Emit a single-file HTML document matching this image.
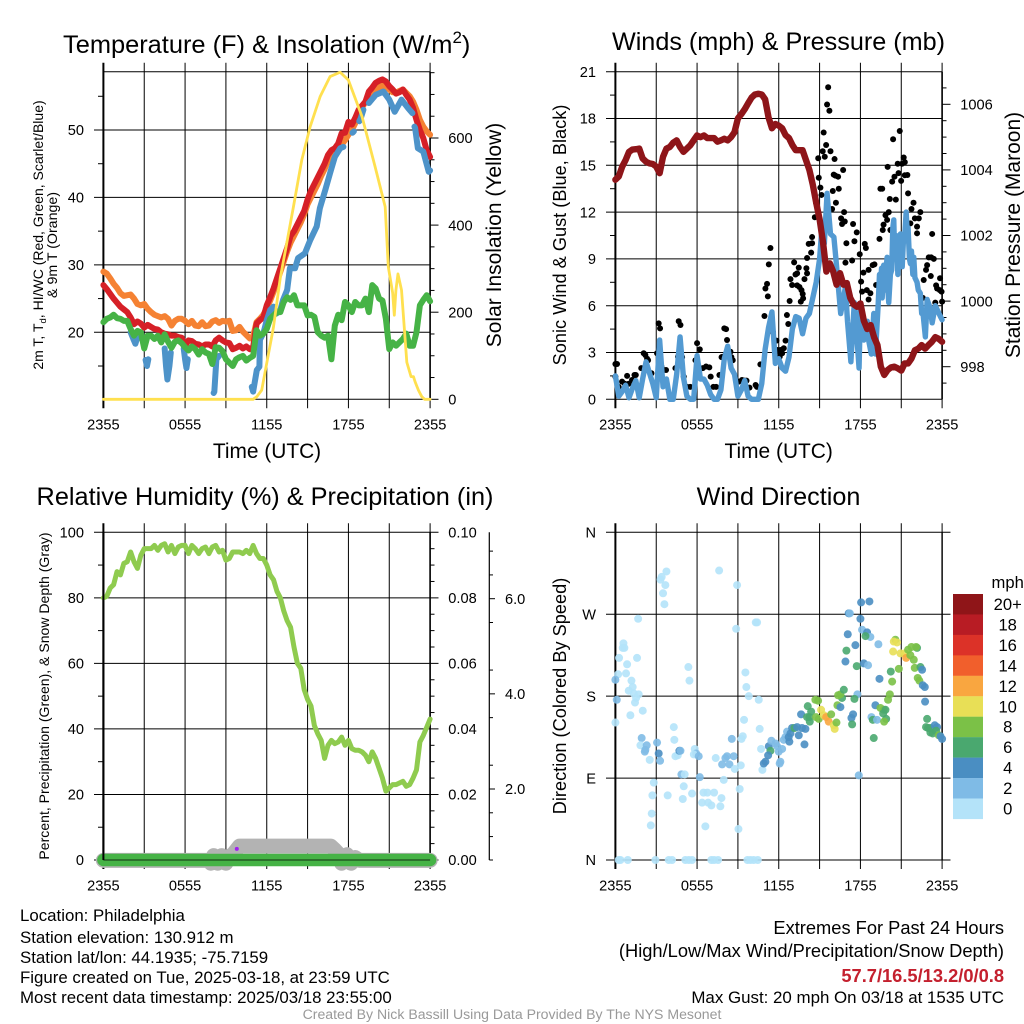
<!DOCTYPE html>
<html lang="en">
<head>
<meta charset="utf-8">
<title>Mesonet Station Meteogram</title>
<style>
html,body{margin:0;padding:0;background:#fff;width:1024px;height:1024px;overflow:hidden}
svg{display:block;font-family:"Liberation Sans",Arial,sans-serif}
text{fill:#000}
</style>
</head>
<body>
<svg id="chart" xmlns="http://www.w3.org/2000/svg" width="1024" height="1024" viewBox="0 0 1024 1024">
  <rect x="0" y="0" width="1024" height="1024" fill="#fff"/>
  <text x="63" y="53" font-size="25.4">Temperature (F) &amp; Insolation (W/m<tspan font-size="17" dy="-10">2</tspan><tspan dy="10">)</tspan></text>
  <text x="778.5" y="50" font-size="25.2" text-anchor="middle">Winds (mph) &amp; Pressure (mb)</text>
  <text x="265" y="505" font-size="25.3" text-anchor="middle">Relative Humidity (%) &amp; Precipitation (in)</text>
  <text x="778.5" y="505" font-size="25.2" text-anchor="middle">Wind Direction</text>

  <text x="267" y="458" font-size="20.9" text-anchor="middle">Time (UTC)</text>
  <text x="778.7" y="458" font-size="20.9" text-anchor="middle">Time (UTC)</text>

  <text transform="translate(43,235) rotate(-90)" font-size="14" text-anchor="middle">2m T, T<tspan font-size="9.5" dy="3">d</tspan><tspan dy="-3">, HI/WC (Red, Green, Scarlet/Blue)</tspan></text>
  <text transform="translate(57,245) rotate(-90)" font-size="14.2" text-anchor="middle">&amp; 9m T (Orange)</text>
  <text transform="translate(501,235) rotate(-90)" font-size="21" text-anchor="middle">Solar Insolation (Yellow)</text>
  <text transform="translate(566,235) rotate(-90)" font-size="18.2" text-anchor="middle">Sonic Wind &amp; Gust (Blue, Black)</text>
  <text transform="translate(1020,235) rotate(-90)" font-size="21" text-anchor="middle">Station Pressure (Maroon)</text>
  <text transform="translate(49,696) rotate(-90)" font-size="14.05" text-anchor="middle">Percent, Precipitation (Green), &amp; Snow Depth (Gray)</text>
  <text transform="translate(566,696) rotate(-90)" font-size="18.2" text-anchor="middle">Direction (Colored By Speed)</text>

  <g font-size="16.85">
    <text x="20" y="921">Location: Philadelphia</text>
    <text x="20" y="943">Station elevation: 130.912 m</text>
    <text x="20" y="963">Station lat/lon: 44.1935; -75.7159</text>
    <text x="20" y="983">Figure created on Tue, 2025-03-18, at 23:59 UTC</text>
    <text x="20" y="1003">Most recent data timestamp: 2025/03/18 23:55:00</text>
  </g>
  <g font-size="18.3" text-anchor="end">
    <text x="1004" y="934">Extremes For Past 24 Hours</text>
    <text x="1004" y="957">(High/Low/Max Wind/Precipitation/Snow Depth)</text>
    <text x="1004" y="982" font-weight="bold" style="fill:#c4202e">57.7/16.5/13.2/0/0.8</text>
    <text x="1004" y="1003" font-size="16.9">Max Gust: 20 mph On 03/18 at 1535 UTC</text>
  </g>
  <text x="512" y="1019" font-size="14.1" text-anchor="middle" style="fill:#999">Created By Nick Bassill Using Data Provided By The NYS Mesonet</text>
</svg>
<script>
// ---------- shared axis data ----------
const timeTickLabels = ['2355', '0555', '1155', '1755', '2355'];
const timeTickHours = [0, 3, 6, 9, 12, 15, 18, 21, 24];
const gridStepHours = 0.25;

// ---------- temperature panel (deg F, one value per 15 minutes) ----------
const tempTicks = [20, 30, 40, 50];
const solarTicks = [0, 200, 400, 600];
const redTemp = [27,26.4,25.7,25,24.4,23.8,23.4,23,22.2,21.2,21.6,21.3,20.7,21.1,20.8,20.5,20.4,20,19.8,19.7,19.5,19.5,19.3,19.2,18,18.8,18.7,18.3,18.2,17.9,18.2,18.2,17.9,18.8,19.2,18.8,18.5,18.4,17.5,17.7,18,17.6,17.9,17.5,17.8,21.3,21.8,22.2,24,25.2,26.5,28,29.5,31,32.5,34.3,35,36,37,38,39.7,41,42,43,44,45,46.3,47,47.3,48,49.5,49.6,51.2,50.8,51.8,53,53.6,54.2,55.7,56.3,57,57.3,57.5,57.2,56.5,56,55.4,55.6,56,55.2,54.5,53.3,51.5,50,48.8,47,46];
const orangeTemp = [29,28.7,28,27.2,26.6,25.8,25.4,25.5,25.6,25,24.2,24,24.2,23.5,23,22.6,22.4,22.2,22.4,22,21,21.7,22,22,21.7,21.2,21.7,21,20.9,21.5,20.9,21,21.6,21.8,21.4,21.7,21.6,21.7,20.2,20.3,20.8,20.1,19.6,19.1,19.4,21.5,22,22.6,23.5,24.7,26,27.5,29,30.5,32,33.3,34.3,35.3,36.3,37.5,39,40,41,42,43.2,44.2,45.5,46.2,46.5,47,47.8,48.5,49.3,50,51,52.5,53.3,54.2,55,55.8,56,56.3,56.6,56.5,56,55.6,55.5,55.8,56,55.5,55,54.2,53,51.5,50.5,49.8,49.3];
const greenTemp = [21.5,22,22.2,22.6,22.1,22,21.7,21.7,20.5,19.5,20.2,20,17.6,19.5,19.5,19,19.5,18.5,19.7,18.6,17.7,18.6,18.8,18.4,17.8,17.3,17.9,17.5,16.7,17.5,17,16.8,15.3,17.8,17.7,17.2,16,15.5,15,16,16.3,16.5,15.8,16.2,16.5,20.3,19.5,19.8,20.5,22,22.5,23,23,24.5,25.2,24.8,25.5,24,24,24,22.5,22.6,22.3,20,19.5,19.2,19.5,16,21,22.6,21.8,24.5,24,23,24.5,24,24,25,23,27,26.5,25,24.7,22,17.5,18.5,18,18.5,19,19.8,18,18,20,24,24.8,25.5,24.6];
const blueHours = [2,2.2,2.35,2.5,2.6,null,3.1,3.2,3.3,null,4.5,4.6,4.7,4.85,4.95,null,5.9,6,6.1,6.2,null,8.1,8.15,8.3,8.5,null,10.9,11,11.27,11.46,11.5,11.76,12,12.25,12.5,12.73,13,13.2,13.5,13.7,14.08,14.3,14.8,15.2,15.67,15.9,16.3,16.65,17,17.4,17.63,null,18.3,18.4,null,18.8,18.9,19.1,null,19.5,20,20.57,21,21.4,21.9,22.4,22.7,null,22.85,22.9,23.1,23.5,23.9,24];
const blueTemp = [20,19,18.3,19.3,20,null,15.9,15,16,null,17.6,15,13,15,17,null,17.6,16,14.7,16,null,11,11.2,16,16.5,null,11.9,11.2,14.4,14.9,18.9,19.9,21.8,23.3,23.8,22.8,23.3,24.8,26.3,29.5,29.5,31,31.7,33.7,35.7,38.4,41.1,43.6,46,47.3,47.5,null,49.6,49.8,null,51.3,51.7,53,null,54,55.2,55.7,54.5,52.7,54.5,53.2,52.5,null,50.5,50.3,47.3,46.8,43.8,44];
const solarHours = [0,11,11.27,11.63,12,12.49,13,13.42,13.96,14.57,15.19,15.92,16.65,17.39,18,19,19.96,20.7,20.93,21.25,21.37,21.49,21.64,21.9,22.29,22.6,22.78,22.9,23.14,23.39,23.6,24];
const solarValues = [0,0,6,21,83,165,280,350,442,549,626,695,741,751,733,649,534,442,304,244,193,251,288,251,85,52,52,40,21,6,0,0];

// ---------- winds panel ----------
const windTicks = [0, 3, 6, 9, 12, 15, 18, 21];
const pressureTicks = [998, 1000, 1002, 1004, 1006];
const windHours = [0,.25,.5,.75,1,1.25,1.5,1.75,2,2.25,2.5,2.75,3,3.25,3.5,3.75,4,4.25,4.5,4.75,5,5.25,5.5,5.75,6,6.25,6.5,6.75,7,7.25,7.5,7.75,8,8.25,8.5,8.75,9,9.25,9.5,9.75,10,10.25,10.5,10.75,11,11.25,11.5,11.75,12,12.25,12.5,12.75,13,13.25,13.5,13.75,14,14.25,14.5,14.75,15,15.2,15.35,15.55,15.8,16.05,16.2,16.3,16.55,16.9,17.05,17.3,17.55,17.7,17.9,18,18.25,18.5,18.6,18.8,18.98,19.1,19.3,19.4,19.47,19.55,19.6,19.71,19.78,19.85,19.96,20.02,20.08,20.2,20.3,20.38,20.45,20.52,20.6,20.69,20.75,20.8,20.94,21,21.07,21.15,21.25,21.36,21.45,21.5,21.6,21.67,21.75,21.85,21.92,22,22.16,22.25,22.4,22.5,22.6,22.77,22.9,23.14,23.27,23.5,23.88,24];
const windSpeeds = [1.5,.2,.5,.9,.1,.7,1.2,.1,1.3,2.4,1.7,1,.1,3.8,.8,1.3,0,0,1.6,4,1.4,.2,0,0,2.8,1.3,1.3,.9,.3,0,0,.6,2.6,3.4,2,1.6,.2,.6,1.2,.2,0,0,0,1,3.2,4.6,5.6,2.3,2.6,2,1.8,2.7,4.5,5.3,5.2,4.2,5.2,5.5,6.5,7.5,9,11.3,10,13.2,10.6,10.4,9,8,5.5,7.2,5,2.4,6.2,4.5,2,5.7,3.8,5,3.8,2.9,5.5,2.9,6,8,7,8.4,6.5,8.6,7,8,9.1,7,6.2,8,8.3,11,11.5,9,10.5,9.4,8,9.5,10.6,9,8.5,10,10.4,12,10.5,11,9,8.7,9.5,8,9.1,7.8,7.5,7,6.8,5.5,5.5,4,6.4,5.8,4.9,6,5.3,5.1];
const gustHours = [0,0,.12,.24,.49,.69,.86,.98,1.4,1.5,1.22,1.9,2.08,2.2,2.33,2.4,2.65,3.06,3.18,3.28,3.38,3.55,3.72,3.43,4.41,4.65,4.78,4.6,4.9,5.02,5.27,5.5,6,6.2,5.88,6.42,6.66,6.9,7,7.2,7.4,7.64,7.8,8,8.13,8.2,7.9,8.45,8.52,8.62,8.94,9.06,9.3,9.48,9.63,9.85,10.3,10.4,10.65,10.95,11.02,11.14,11.2,11.27,11.39,11.58,11.7,11.83,11.88,12,12.12,12.25,12.07,12.37,12.5,12.6,12.7,12.8,12.86,12.98,13.13,13.23,13.35,13.47,13.35,13.52,13.67,13.76,13.62,13.79,13.89,14.08,14.03,14.08,14.2,14.45,14.38,14.45,14.65,14.74,14.9,14.94,15.06,15.14,15.23,15.3,15.38,15.48,15.55,15.63,15.72,15.8,15.92,15.97,16.04,16.1,16.2,16.16,16.36,16.41,16.58,16.65,16.73,16.8,16.85,16.9,16.97,17.39,17.46,17.56,17.73,17.95,18.05,18.12,18.22,18.32,18.4,18.47,18.6,18.6,18.9,19.03,19.15,18.73,19.4,19.47,19.6,19.64,19.7,19.84,19.96,20.08,20,20.16,20.2,20.33,20.4,20.5,20.6,20.74,20.8,20.89,20.99,21.06,21.18,21.26,21.26,21.45,21.5,21.75,21.9,21.67,22,22.16,22.16,22.29,22.4,22.65,22.58,22.82,22.9,23.02,23.2,23.39,23.17,23.27,23.5,23.56,23.63,23.83,23.85,24,23.96];
const gustSpeeds = [1.45,2.26,2.26,.8,1.13,1,1.5,1,1.56,1.56,1.24,2,2.95,2.84,2.6,2.5,1.67,2.95,4.87,4.55,2.1,1.88,1.88,1.35,2,5,4.76,2.73,2.7,1.45,.8,.8,3.6,3.2,2.5,2,2.1,2.05,1.45,.8,.8,1.56,2.7,4.55,4.5,3.8,2.73,3.05,2.7,2.5,1.13,1.13,1.24,1.2,1.2,.75,.92,.8,2.24,5.34,7.1,7.4,6.6,8.65,9.7,4.3,3.76,3.76,3.16,3.05,3.16,2.95,2.73,3.27,3.76,5.4,4.83,6.3,7.7,7.33,8.78,8,8.07,8.44,7.3,7.2,7,6.75,6.26,6.47,7.7,8.07,8.4,9.06,9.96,10,9.4,10.4,11.67,12.6,15.45,14.2,13.57,13.1,15.9,17.1,15.55,16.3,18.9,20,18.5,15.9,12.2,13.35,14.4,15.4,12.6,14.34,14.27,13.5,11.6,11.24,14.7,12,11.4,8.76,10,8.9,11.24,10.13,10.7,9.3,7.54,6.9,8.12,9.96,9.7,7,6.4,8.3,8.6,8.65,7.33,6.8,10.28,13.5,13.5,10.85,11.2,11.8,11.5,12,14.9,12.84,10.85,13.95,16.67,14.27,12.8,15.1,14.5,17.2,14,15.1,15.5,15.2,14.36,14.38,13.2,12.2,12.6,11.28,11.6,11.07,10.64,11.6,12,7.65,6.5,8.3,8.6,9.1,9.1,9,7.9,10.6,6.2,7.3,7.1,7,7.76,6.26,6.9];
const pressureValues = [1003.7,1003.8,1004.1,1004.3,1004.55,1004.62,1004.63,1004.65,1004.35,1004.25,1004.2,1004.18,1004.1,1003.9,1004.4,1004.65,1004.7,1004.83,1004.9,1004.7,1004.55,1004.65,1004.75,1004.9,1005.05,1005,1005.05,1004.97,1004.97,1004.97,1004.86,1004.9,1004.95,1004.9,1005,1005.15,1005.57,1005.7,1005.85,1006.03,1006.2,1006.3,1006.32,1006.3,1006.15,1005.6,1005.27,1005.4,1005.35,1005.27,1005.06,1004.97,1004.76,1004.6,1004.6,1004.6,1004.3,1004,1003.55,1003,1002.5,1001.8,1000.9,1001.15,1000.9,1000.5,1000.85,1000.5,1000.55,1000.1,999.9,999.83,999.93,999.4,999.15,999.27,998.9,998.66,998,997.75,997.9,997.98,998,997.95,997.88,998.1,998.1,998.25,998.5,998.55,998.66,998.55,998.66,998.76,998.9,998.85,998.76];

// ---------- humidity panel ----------
const humidityTicks = [0, 20, 40, 60, 80, 100];
const precipTicks = ['0.00', '0.02', '0.04', '0.06', '0.08', '0.10'];
const snowTicks = ['2.0', '4.0', '6.0'];
const humidityValues = [80,80.5,83,84,88,87,90.5,91,94,91,89,93,95,95,95,96,94.5,96,96.5,94,96,93.5,95.5,96,96,93.5,96,95,93.5,95,95.5,93.5,95.5,96,94,94.5,91.5,92,94,94,94,93.5,94.5,93.5,96,93.5,92,92,90,87,85.5,82,80,76,73,71,65,60,58.5,52,49,47,41,38.5,36.5,31,35,36.5,35.5,36,37.5,35,36.5,34,33.5,33.5,33,32,30,33,31,28,25,21,22,23,23,23.5,24,22.5,23,25,27.5,36,38,40.5,43];
const precipHours = [0, 24];
const precipValues = [0, 0];
const snowHours = [0,7.5,7.7,7.9,8.1,8.4,8.7,9,9.2,9.5,10,16.7,17,17.2,17.5,17.9,18.2,18.5,18.8,24];
const snowValues = [.5,.5,.5,.44,.6,.44,.6,.44,.58,.62,.8,.8,.72,.66,.44,.62,.44,.56,.5,.5];
const markerHours = [9.8];
const markerValues = [.0034];

// ---------- wind direction panel ----------
const compassLabels = ['N', 'E', 'S', 'W', 'N'];
const compassDegrees = [0, 90, 180, 270, 360];
const legendLabels = ['20+', '18', '16', '14', '12', '10', '8', '6', '4', '2', '0'];
const legendColors = ['#8f1518', '#b81c24', '#dc3228', '#f15f2c', '#f9a640', '#e8df56', '#7bc147', '#4aa86f', '#4a8ec2', '#7fbbe6', '#b4e3f9'];
const dirHours = [0,.2,0,.1,.27,.59,.54,.66,.86,.78,1.18,1.27,.98,1.35,1.71,1.52,1.44,2.01,1.1,1.59,1.67,1.93,1.84,2.2,2.3,2.16,2.52,3.06,3.18,3.28,2.82,2.72,3.84,2.67,2.6,3.75,3.4,3.31,3.67,3.5,3.6,5.36,5.44,4.29,4.33,4.41,4.58,4.7,4.78,4.85,5.09,5.02,4.95,5.63,5.83,5.93,5.76,6.12,6.2,6.47,6.76,7.25,6.37,6.81,7.05,6.61,7.37,7.62,7.79,7.71,7.96,7.84,8.08,8.2,8.38,8.69,8.77,8.55,8.94,8.87,10.31,10.41,9.55,9.62,9.8,10.53,9.45,10.6,9.36,9.26,9.21,9.13,9.04,10.7,10.8,.24,.37,.91,2.94,3.92,4.16,5.14,5.39,5.63,7.05,7.25,7.54,9.7,9.92,10.16,10.46,11.27,11.39,11.22,11.02,10.9,11.46,11.76,11.88,12,12.25,12.07,12.12,12.37,12.49,12.61,12.73,12.86,12.78,12.98,13.15,13.35,13.47,13.71,13.96,13.89,13.64,14.13,14.38,14.25,14.08,14.28,14.69,14.89,14.74,14.94,15.11,15.31,15.48,15.67,15.85,16.11,16.04,16.24,16.31,16.53,16.65,16.36,16.53,16.78,16.97,16.9,17.14,17.22,17.07,17.63,18,18.05,18.66,17.73,18.25,18.56,18.12,18.49,18.73,18.37,19.32,19.4,17.78,17.56,17.34,17.46,17.39,17.88,18.98,18.81,18.91,19.22,19.1,19.47,19.71,19.84,19.67,19.89,19.74,20.03,20.16,20.33,20.23,20.82,20.57,20.45,20.69,20.4,20.94,21.26,21.36,21.5,21.75,22.16,22.09,21.67,21.92,21.99,22.41,22.53,22.21,22.33,22.58,22.73,22.75,22.9,22.82,22.97,23.14,23.31,23.14,23.46,23.63,23.56,23.76,23.88,24];
const dirDegrees = [151,204,198,176,222,238,233,233,215,205,197,190,186,183,182,178,173,164,159,222,265,134,126,121,126,119,110,129,117,109,85,71,71,51,38,317,311,308,302,293,281,212,197,146,132,114,115,120,120,94,94,81,67,73,122,117,116,114,91,74,74,74,63,63,60,37,112,318,68,59,88,105,112,114,105,114,100,133,302,254,261,261,206,190,180,176,154,144,136,133,104,78,34,122,99,0,0,0,0,0,0,0,0,0,0,0,0,0,0,0,0,125,120,115,108,106,131,128,125,119,122,106,108,132,135,141,135,139,130,145,145,146,137,145,144,127,160,169,163,157,157,152,176,175,157,155,165,159,157,152,160,144,148,151,170,168,178,181,182,187,230,218,271,271,248,236,265,283,284,213,216,214,253,250,245,246,237,199,182,177,156,160,149,93,134,157,154,154,170,167,165,165,161,155,152,176,182,196,207,210,242,240,239,229,227,227,222,231,234,233,234,225,220,211,212,209,200,197,192,190,174,155,146,145,140,139,145,148,146,142,137,136,133];
const dirSpeeds = [.5,.5,3,3,.5,.5,.5,.5,.5,.5,.5,.5,.5,.5,.5,.5,.5,.5,.5,.5,.5,2.5,.5,2.5,2.5,2.5,.5,3,4.5,3,.5,.5,.5,.5,.5,.5,.5,.5,.5,.5,.5,.5,.5,.5,.5,.5,.5,4.5,3,3,.5,.5,.5,.5,.5,3,.5,3,3.5,.5,.5,.5,.5,.5,.5,.5,.5,.5,.5,.5,.5,2.5,3,3,2.5,2.5,.5,3,.5,.5,.5,.5,.5,.5,.5,.5,.5,.5,.5,.5,.5,.5,.5,.5,.5,.5,.5,.5,.5,.5,.5,.5,.5,.5,.5,.5,.5,.5,.5,.5,.5,4.5,6.5,4.5,4.5,4.5,3,3,3,3,3.5,3.5,3,3,3,3,4.5,4.5,4.5,4.5,6.5,4.5,4.5,4.5,4.5,4.5,4.5,6.5,6.5,6.5,6.5,6.5,8.5,8.5,8.5,8.5,10.5,10.5,12.5,12.5,8.5,10.5,10.5,8.5,8.5,4.5,6.5,8.5,8.5,6.5,6.5,4.5,4.5,3.5,4.5,4.5,4.5,4.5,4.5,6.5,4.5,3,3,4.5,3,6.5,3,4.5,3,6.5,4.5,4.5,6.5,3.5,6.5,3,6.5,3,4.5,8.5,8.5,6.5,6.5,6.5,8.5,8.5,8.5,8.5,6.5,8.5,8.5,10.5,10.5,10.5,10.5,10.5,12.5,8.5,8.5,6.5,8.5,8.5,8.5,8.5,6.5,4.5,8.5,8.5,4.5,4.5,4.5,6.5,6.5,6.5,6.5,6.5,6.5,4.5,4.5,6.5,8.5,4.5,4.5];

// ---------- helpers ----------
const SVG_NS = 'http://www.w3.org/2000/svg';
const chart = document.getElementById('chart');

function addNode(tag, attrs, name, parent) {
  const el = document.createElementNS(SVG_NS, tag);
  for (const key in attrs) el.setAttribute(key, attrs[key]);
  
  
  (parent || chart).appendChild(el);
  return el;
}
function addLine(x1, y1, x2, y2, name, width, parent) {
  return addNode('line', {x1, y1, x2, y2, stroke: '#000', 'stroke-width': width || 1}, name, parent);
}
function addText(x, y, str, anchor, name, size, parent) {
  const el = addNode('text', {x, y, 'text-anchor': anchor, 'font-size': size || 14.6}, name, parent);
  el.textContent = str;
  return el;
}
function addSeries(hours, values, xFn, yFn, color, width, name, parent) {
  let d = '';
  let pen = false;
  hours.forEach(function (h, i) {
    const v = values[i];
    if (h === null || v === null) { pen = false; return; }
    d += (pen ? 'L' : 'M') + xFn(h).toFixed(2) + ' ' + yFn(v).toFixed(2);
    pen = true;
  });
  return addNode('path', {d, fill: 'none', stroke: color, 'stroke-width': width, 'stroke-linejoin': 'round', 'stroke-linecap': 'round'}, name, parent);
}
function uniformHours(values) {
  return values.map(function (_, i) { return i * gridStepHours; });
}
function makeTimeScale(left) {
  return function (h) { return left + h / 24 * 326.7; };
}
function linearScale(v0, y0, v1, y1) {
  return function (v) { return y0 + (v - v0) * (y1 - y0) / (v1 - v0); };
}
function drawTimeAxis(prefix, xFn, top, bottom, labelY) {
  timeTickHours.forEach(function (h, i) {
    addLine(xFn(h), top - 9, xFn(h), bottom + 9, prefix + '-time-gridline', (i === 0) ? 2 : 1);
  });
  timeTickLabels.forEach(function (label, i) {
    addText(xFn(i * 6), labelY, label, 'middle', prefix + '-time-tick-label');
  });
}

// ---------- panel 1: temperature and insolation ----------
(function () {
  const x = makeTimeScale(103.4);
  const yT = linearScale(50, 130, 20, 332.3);
  const yS = linearScale(0, 399.3, 600, 138);
  const g = addNode('g', {}, 'temperature-panel');
  drawTimeAxis('temperature', x, 71.7, 399.3, 429.5);
  addLine(x(0), 71.7, x(24), 71.7, 'temperature-top-border');
  addLine(x(0), 399.3, x(24), 399.3, 'temperature-bottom-border');
  addLine(x(24), 71.7, x(24), 399.3, 'temperature-right-border', 1.6);
  tempTicks.forEach(function (t) {
    addLine(94, yT(t), x(24), yT(t), 'temperature-gridline');
    addText(84, yT(t) + 5.2, String(t), 'end', 'temperature-tick-label');
  });
  for (let m = 15; m <= 55; m += 10) {
    addLine(98, yT(m), x(0), yT(m), 'temperature-minor-tick');
  }
  solarTicks.forEach(function (s) {
    addLine(x(24), yS(s), 438.5, yS(s), 'insolation-tick');
    addText(448.3, yS(s) + 5.2, String(s), 'start', 'insolation-tick-label');
  });
  for (let m = 50; m <= 750; m += 50) {
    if (m % 200 !== 0) addLine(x(24), yS(m), 434.5, yS(m), 'insolation-minor-tick');
  }
  addSeries(uniformHours(orangeTemp), orangeTemp, x, yT, '#f58233', 6, 'nine-meter-temperature-line', g);
  addSeries(uniformHours(redTemp), redTemp, x, yT, '#d62027', 6, 'two-meter-temperature-line', g);
  addSeries(blueHours, blueTemp, x, yT, '#4d93c9', 6, 'heat-index-wind-chill-line', g);
  addSeries(uniformHours(greenTemp), greenTemp, x, yT, '#46b346', 6, 'dew-point-line', g);
  addSeries(solarHours, solarValues, x, yS, '#ffe04f', 2.8, 'solar-insolation-line', g);
  chart.appendChild(g);
})();

// ---------- panel 2: winds and pressure ----------
(function () {
  const x = makeTimeScale(615.4);
  const yW = linearScale(0, 399.3, 21, 71.7);
  const yP = linearScale(998, 366.7, 1006, 104.3);
  const g = addNode('g', {}, 'winds-panel');
  drawTimeAxis('winds', x, 71.7, 399.3, 429.5);
  addLine(x(24), 71.7, x(24), 399.3, 'winds-right-border', 1.6);
  windTicks.forEach(function (w) {
    addLine(606, yW(w), x(24), yW(w), 'winds-gridline');
    addText(596, yW(w) + 5.2, String(w), 'end', 'winds-tick-label');
  });
  for (let m = 1.5; m < 21; m += 3) {
    addLine(610, yW(m), x(0), yW(m), 'winds-minor-tick');
  }
  pressureTicks.forEach(function (p) {
    addLine(x(24), yP(p), 950.5, yP(p), 'pressure-tick');
    addText(960.3, yP(p) + 5.2, String(p), 'start', 'pressure-tick-label');
  });
  for (let m = 997.5; m <= 1006.6; m += 0.5) {
    if (m % 2 !== 0) addLine(x(24), yP(m), 946.5, yP(m), 'pressure-minor-tick');
  }
  gustHours.forEach(function (h, i) {
    addNode('circle', {cx: x(h), cy: yW(gustSpeeds[i]), r: 3, fill: '#000'}, 'gust-point', g);
  });
  addSeries(windHours, windSpeeds, x, yW, '#539ad2', 5.4, 'sonic-wind-line', g);
  addSeries(uniformHours(pressureValues), pressureValues, x, yP, '#8e1519', 6.4, 'station-pressure-line', g);
  chart.appendChild(g);
})();

// ---------- panel 3: humidity, precipitation and snow ----------
(function () {
  const x = makeTimeScale(103.4);
  const yH = linearScale(0, 860, 100, 532.3);
  const yPr = linearScale(0, 860, 0.1, 532.3);
  const yS = linearScale(2, 789, 6, 598.7);
  const g = addNode('g', {}, 'humidity-panel');
  drawTimeAxis('humidity', x, 532.3, 860, 890.5);
  addLine(x(24), 532.3, x(24), 860, 'humidity-right-border', 1.6);
  humidityTicks.forEach(function (h, i) {
    addLine(94, yH(h), 438.5, yH(h), 'humidity-gridline');
    addText(84, yH(h) + 5.2, String(h), 'end', 'humidity-tick-label');
    addText(448.3, yH(h) + 5.2, precipTicks[i], 'start', 'precipitation-tick-label');
  });
  for (let m = 10; m < 100; m += 20) {
    addLine(98, yH(m), x(0), yH(m), 'humidity-minor-tick');
  }
  for (let m = 5; m < 100; m += 5) {
    if (m % 20 !== 0) addLine(x(24), yH(m), 434.5, yH(m), 'precipitation-minor-tick');
  }
  addLine(489.3, 532.3, 489.3, 860, 'snow-axis-line', 1.2);
  snowTicks.forEach(function (s) {
    const v = parseFloat(s);
    addLine(489.3, yS(v), 495, yS(v), 'snow-axis-tick');
    addText(505, yS(v) + 5.2, s, 'start', 'snow-axis-tick-label');
  });
  [1, 1.5, 2.5, 3.5, 4.5, 5.5, 6.5, 7].forEach(function (m) {
    addLine(489.3, yS(m), 493, yS(m), 'snow-axis-minor-tick');
  });
  addLine(489.3, 860, 493, 860, 'snow-axis-minor-tick');
  addSeries(snowHours, snowValues, x, yS, '#b3b3b3', 15, 'snow-depth-line', g);
  addSeries(precipHours, precipValues, x, yPr, '#46b346', 12.5, 'precipitation-line', g);
  addSeries(uniformHours(humidityValues), humidityValues, x, yH, '#8fcb4f', 5, 'relative-humidity-line', g);
  markerHours.forEach(function (h, i) {
    addNode('circle', {cx: x(h), cy: yPr(markerValues[i]), r: 2, fill: '#a020f0'}, 'precipitation-marker', g);
  });
  chart.appendChild(g);
  addLine(x(0), 860, x(24), 860, 'humidity-baseline', 0.8);
  addLine(x(0), 532.3, x(0), 860, 'humidity-left-border', 2);
})();

// ---------- panel 4: wind direction ----------
(function () {
  const x = makeTimeScale(615.4);
  const y = linearScale(0, 860, 360, 532.3);
  drawTimeAxis('direction', x, 532.3, 860, 890.5);
  addLine(x(24), 532.3, x(24), 860, 'direction-right-border', 1.4);
  compassDegrees.forEach(function (d, i) {
    addLine(606, y(d), 950.5, y(d), 'direction-gridline');
    addText(596, y(d) + 5.2, compassLabels[i], 'end', 'direction-tick-label', 14.6);
  });
  const g = addNode('g', {'fill-opacity': 0.9}, 'direction-points');
  dirHours.forEach(function (h, i) {
    const bin = Math.min(10, Math.floor(dirSpeeds[i] / 2));
    const color = legendColors[10 - bin];
    addNode('circle', {cx: x(h), cy: y(dirDegrees[i]), r: 4, fill: color}, 'direction-point', g);
  });
  const legend = addNode('g', {}, 'speed-legend');
  addText(1007.7, 588, 'mph', 'middle', 'speed-legend-title', 16.6, legend);
  legendColors.forEach(function (color, i) {
    addNode('rect', {x: 953, y: 594 + i * 20.45, width: 30, height: 20.6, fill: color}, 'speed-legend-swatch', legend);
    addText(1007.7, 610 + i * 20.45, legendLabels[i], 'middle', 'speed-legend-label', 16.6, legend);
  });
})();
</script>
</body>
</html>
